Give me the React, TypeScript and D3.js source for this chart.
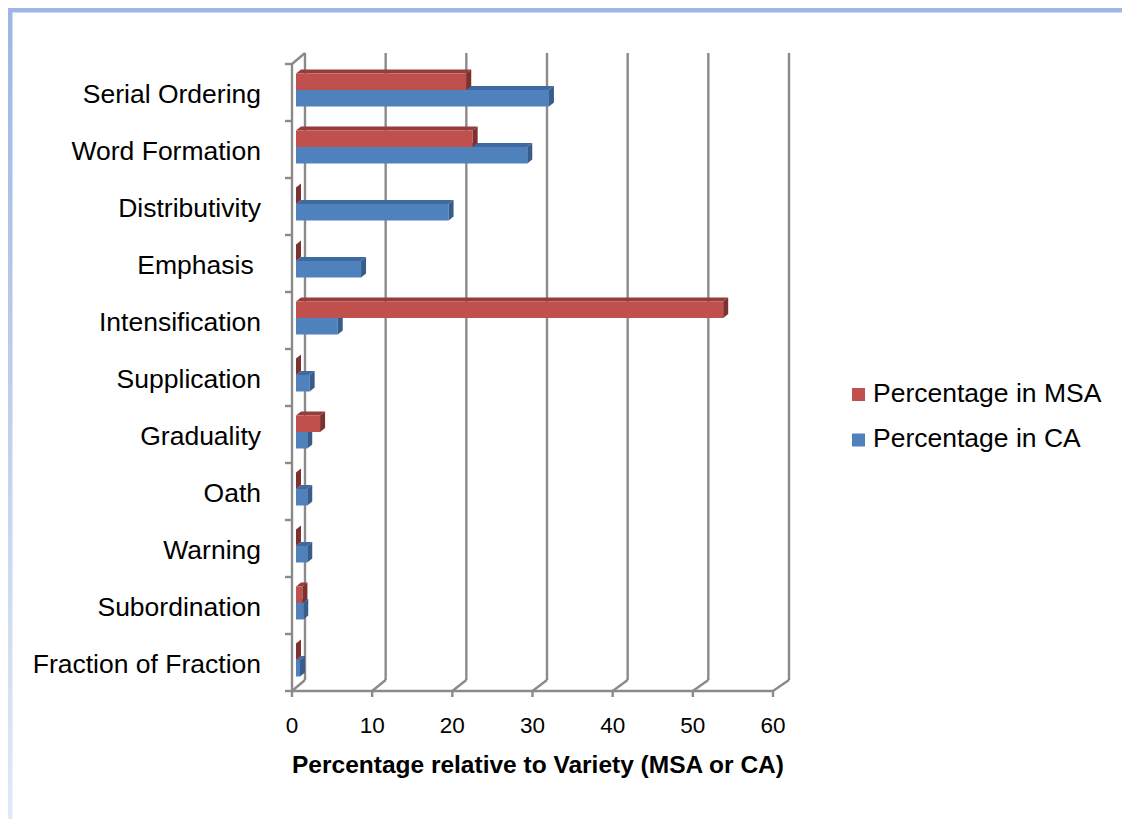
import React, { useEffect, useRef } from 'react';
import * as d3 from 'd3';

const categories = [
  'Serial Ordering',
  'Word Formation',
  'Distributivity',
  'Emphasis ',
  'Intensification',
  'Supplication',
  'Graduality',
  'Oath',
  'Warning',
  'Subordination',
  'Fraction of Fraction',
];
const msaValues = [21.2, 22.0, 0, 0, 53.2, 0, 3.0, 0, 0, 0.8, 0];
const caValues = [31.5, 28.8, 19.0, 8.1, 5.2, 1.7, 1.4, 1.4, 1.4, 0.9, 0.5];
const xTicks = [0, 10, 20, 30, 40, 50, 60];
const seriesNames = ['Percentage in MSA', 'Percentage in CA'];

const W = 1122;
const H = 819;
const FONT = '"Liberation Sans", Arial, sans-serif';

function App() {
  const ref = useRef<SVGSVGElement | null>(null);

  useEffect(() => {
    drawChart();
  }, []);

  const drawChart = () => {
    const svg = d3.select(ref.current);
    svg.selectAll('*').remove();

    // frame (light blue border, fading downwards)
    const defs = svg.append('defs');
    const grad = defs.append('linearGradient')
      .attr('id', 'leftFade').attr('x1', 0).attr('y1', 0).attr('x2', 0).attr('y2', 1);
    grad.append('stop').attr('offset', '0%').attr('stop-color', '#9db6e3');
    grad.append('stop').attr('offset', '100%').attr('stop-color', '#e2e9f6');
    svg.append('rect').attr('x', 8).attr('y', 8).attr('width', W - 8).attr('height', 4.5).attr('fill', '#9db6e3');
    svg.append('rect').attr('x', 8).attr('y', 8).attr('width', 4.5).attr('height', H - 8).attr('fill', 'url(#leftFade)');

    // 3D geometry: front plane and back wall
    const xFront = d3.scaleLinear().domain([0, 60]).range([292, 773]);
    const xBack = d3.scaleLinear().domain([0, 60]).range([305, 789]);
    const xBar = d3.scaleLinear().domain([0, 60]).range([296, 777.8]);
    const yFront = d3.scaleBand<string>().domain(categories).range([64, 691]);
    const backTop = 53;
    const backBottom = 680;
    const frontBottom = 691;

    const grid = svg.append('g').attr('stroke', '#8a8a8a').attr('stroke-width', 2.4).attr('fill', 'none');

    // back wall gridlines
    grid.selectAll('line.back')
      .data(xTicks)
      .enter()
      .append('line')
      .attr('x1', d => xBack(d)).attr('x2', d => xBack(d))
      .attr('y1', backTop).attr('y2', backBottom);

    // floor diagonals
    grid.selectAll('line.floor')
      .data(xTicks)
      .enter()
      .append('line')
      .attr('x1', d => xBack(d)).attr('y1', backBottom)
      .attr('x2', d => xFront(d)).attr('y2', frontBottom);

    // front x axis + ticks
    grid.append('line')
      .attr('x1', xFront(0)).attr('x2', xFront(60))
      .attr('y1', frontBottom).attr('y2', frontBottom);
    grid.selectAll('line.xtick')
      .data(xTicks)
      .enter()
      .append('line')
      .attr('x1', d => xFront(d)).attr('x2', d => xFront(d))
      .attr('y1', frontBottom).attr('y2', frontBottom + 6);

    // left front axis, top connector, category ticks
    grid.append('line')
      .attr('x1', xFront(0)).attr('x2', xFront(0))
      .attr('y1', 64).attr('y2', frontBottom);
    grid.append('line')
      .attr('x1', xFront(0)).attr('y1', 64)
      .attr('x2', xBack(0)).attr('y2', backTop);
    const catTicks = categories.map(c => yFront(c) as number).concat([691]);
    grid.selectAll('line.ytick')
      .data(catTicks)
      .enter()
      .append('line')
      .attr('x1', xFront(0) - 7).attr('x2', xFront(0))
      .attr('y1', d => d).attr('y2', d => d);

    // bars
    const barH = 16.5;
    const dx = 5;
    const dy = -4;
    const drawBar = (g: any, x1: number, y: number, front: string, top: string, side: string) => {
      const x0 = xBar(0);
      if (x1 > x0) {
        g.append('polygon')
          .attr('points', [[x0, y], [x0 + dx, y + dy], [x1 + dx, y + dy], [x1, y]].join(' '))
          .attr('fill', top);
        g.append('rect')
          .attr('x', x0).attr('y', y).attr('width', x1 - x0).attr('height', barH)
          .attr('fill', front);
      }
      g.append('polygon')
        .attr('points', [[x1, y], [x1 + dx, y + dy], [x1 + dx, y + dy + barH], [x1, y + barH]].join(' '))
        .attr('fill', side);
    };

    const bars = svg.append('g');
    categories.forEach((c, i) => {
      const yTop = (yFront(c) as number) + 9.5;
      const g = bars.append('g');
      drawBar(g, xBar(caValues[i]), yTop + barH, '#4f81bd', '#3e6aa1', '#385d8a');
      drawBar(g, xBar(msaValues[i]), yTop, '#c0504d', '#963c3a', '#7e302e');
    });

    // category labels
    svg.append('g')
      .selectAll('text')
      .data(categories)
      .enter()
      .append('text')
      .attr('x', 261)
      .attr('y', d => (yFront(d) as number) + yFront.bandwidth() / 2 + 1.5)
      .attr('text-anchor', 'end')
      .attr('dominant-baseline', 'central')
      .style('white-space', 'pre')
      .attr('font-family', FONT)
      .attr('font-size', 26.5)
      .attr('fill', '#000')
      .text(d => d);

    // x tick labels
    svg.append('g')
      .selectAll('text')
      .data(xTicks)
      .enter()
      .append('text')
      .attr('x', d => xFront(d))
      .attr('y', 733)
      .attr('text-anchor', 'middle')
      .attr('font-family', FONT)
      .attr('font-size', 22.5)
      .attr('fill', '#000')
      .text(d => d);

    // axis title
    svg.append('text')
      .attr('x', 538)
      .attr('y', 773)
      .attr('text-anchor', 'middle')
      .attr('font-family', FONT)
      .attr('font-size', 24.5)
      .attr('font-weight', 'bold')
      .attr('fill', '#000')
      .text('Percentage relative to Variety (MSA or CA)');

    // legend
    const legendColors = ['#c0504d', '#4f81bd'];
    const lg = svg.append('g');
    seriesNames.forEach((name, i) => {
      const base = 401.5 + i * 45.5;
      lg.append('rect')
        .attr('x', 852).attr('y', base - 13.5).attr('width', 13).attr('height', 13)
        .attr('fill', legendColors[i]);
      lg.append('text')
        .attr('x', 873).attr('y', base)
        .attr('font-family', FONT)
        .attr('font-size', 26.5)
        .attr('fill', '#000')
        .text(name);
    });
  };

  return (
    <svg
      ref={ref}
      width={W}
      height={H}
      style={{ position: 'absolute', left: 0, top: 0, background: '#fff' }}
    />
  );
}

export default App;
